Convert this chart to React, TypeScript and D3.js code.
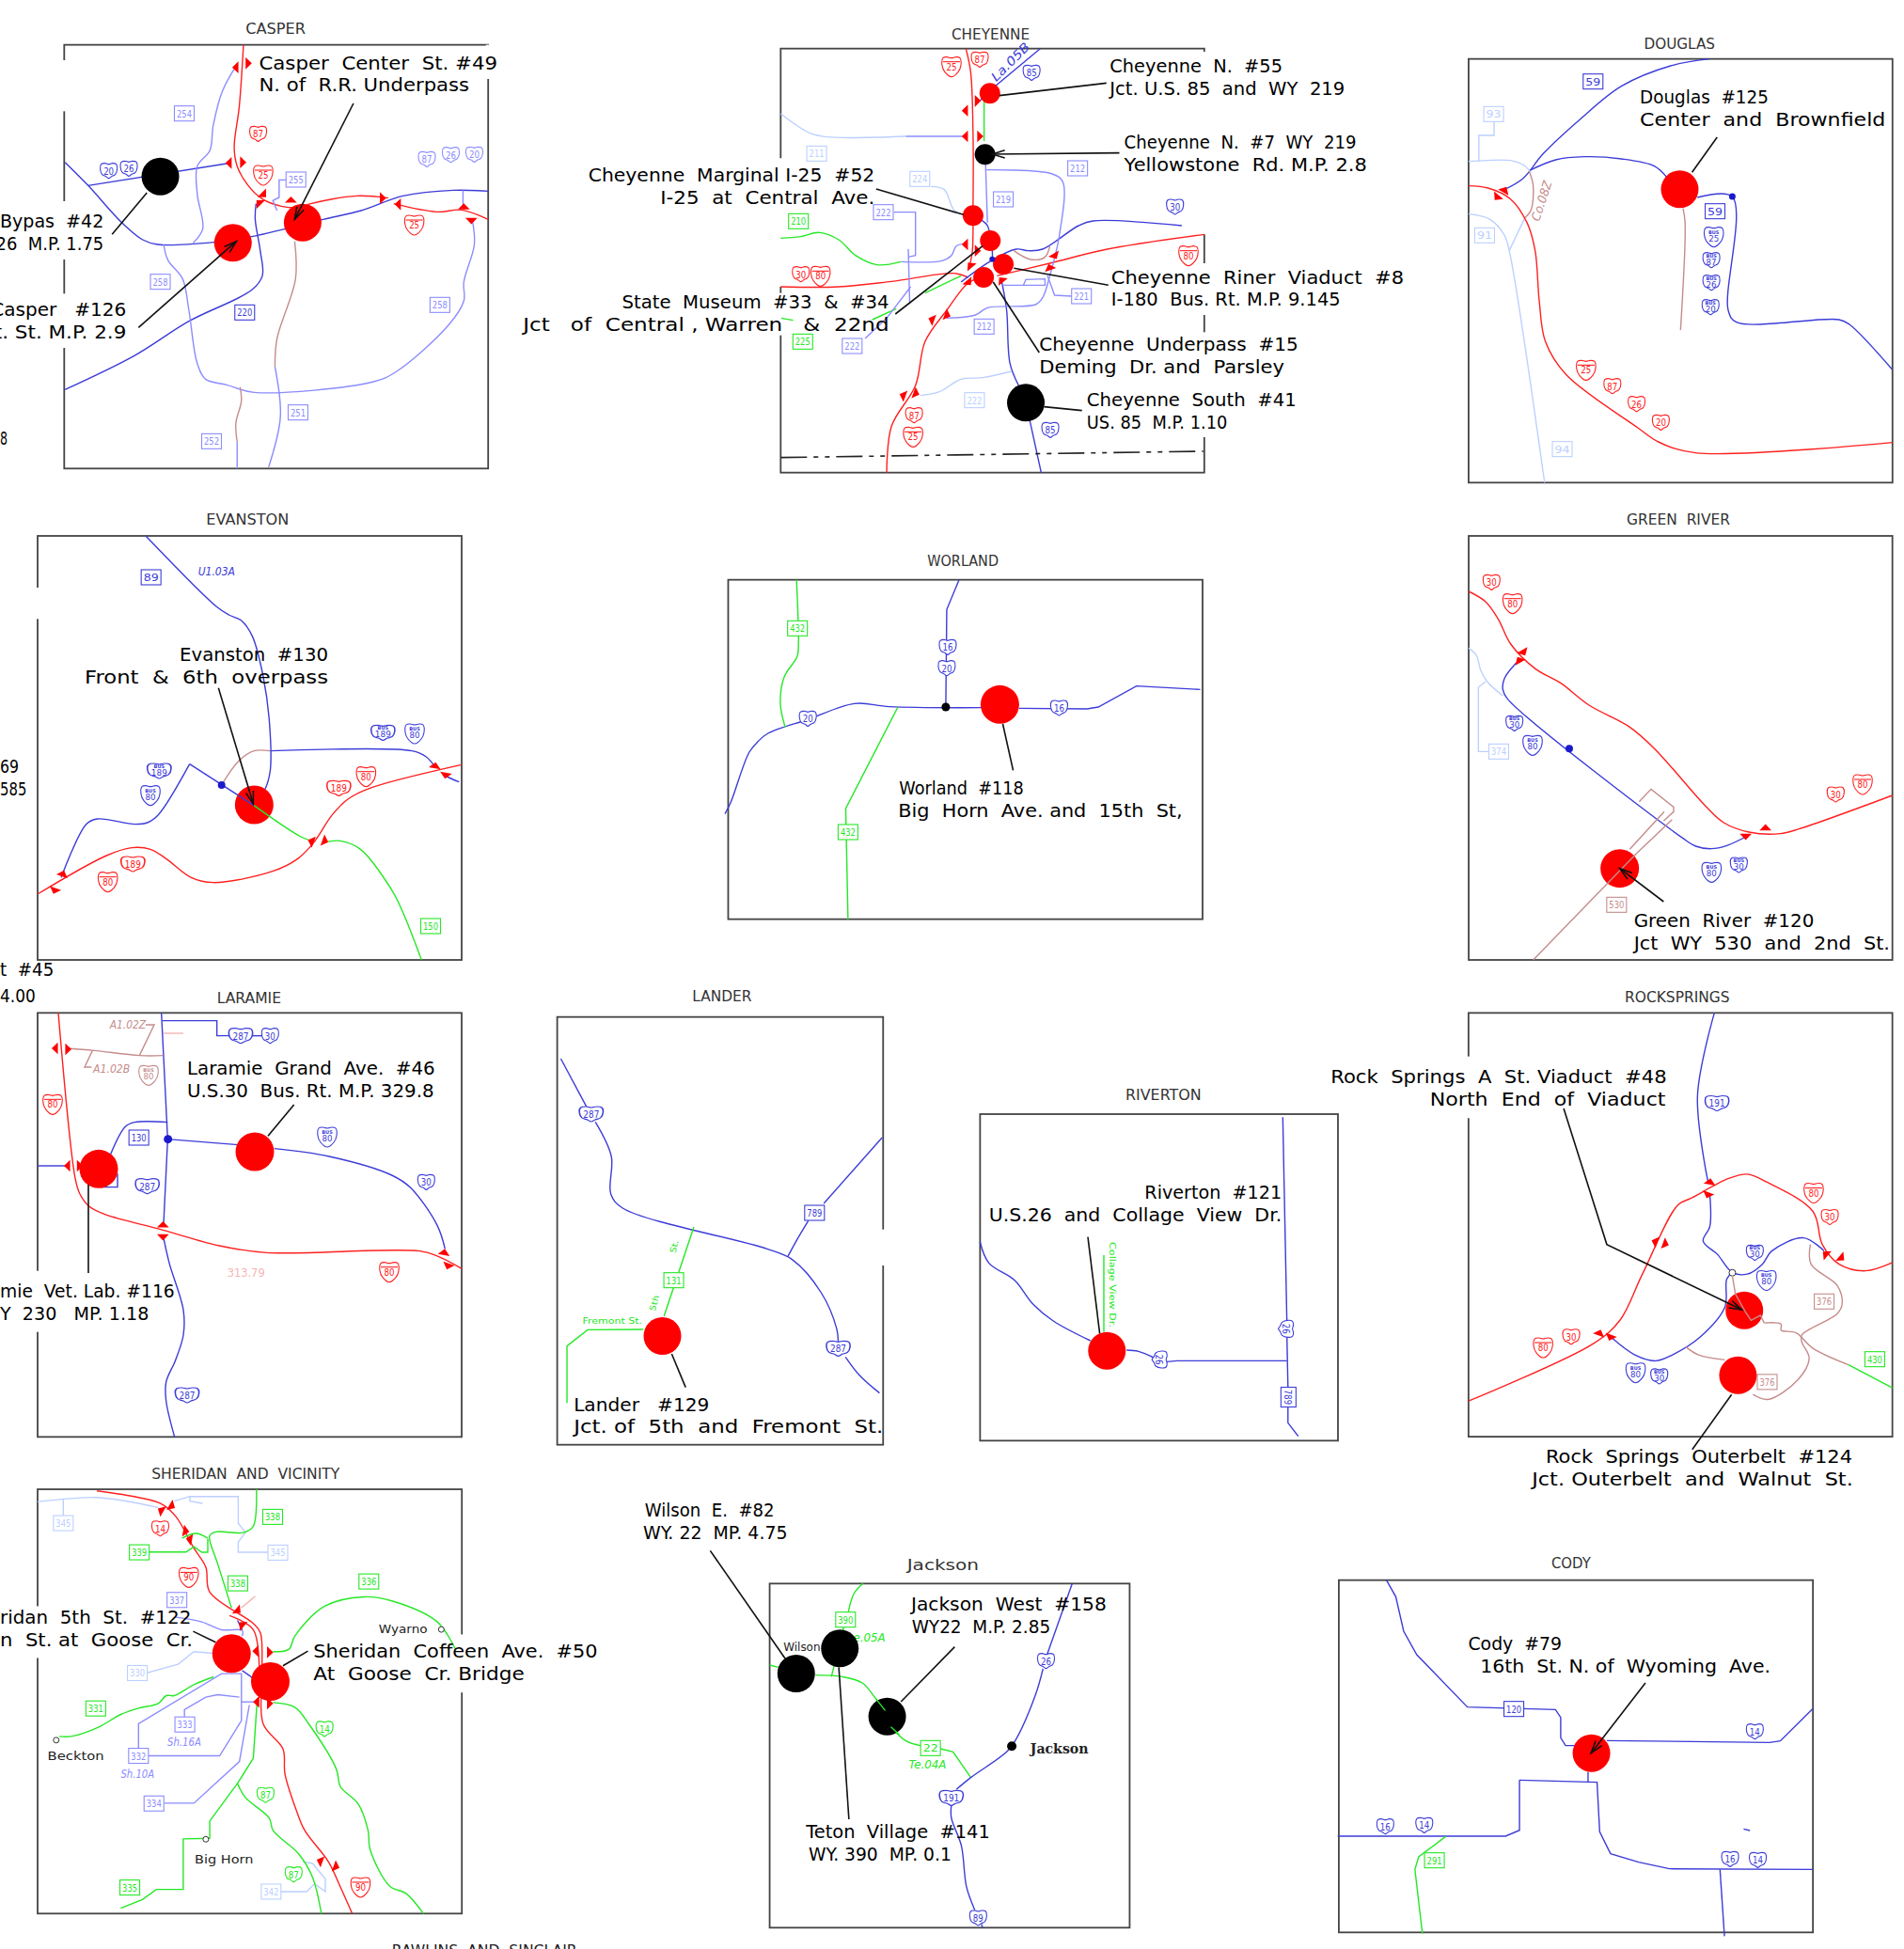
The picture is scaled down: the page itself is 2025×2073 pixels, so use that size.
import * as d3 from 'd3';
import React from 'react';

// Map values are read off the source sheet, one crop per inset: [left, top, width, height].
// Every x/y below is in that crop's measuring grid and goes through the panel's d3 scales.
type Road = [string, number[], number?];
type Shield = [string, string, number, number, string, number?];
type Station = [string, number, number, number];
type Leader = [number[], number?];
type Caption = [number, number, number, string];
type Note = [string, string, number, number, number, string, number?];
type Ramp = [number, number, number];

const casperRoads: Road[] = [
  ['interstate', [580,143,570,340,558,470,565,530,590,590,625,635,670,658,715,662,740,650,850,625,925,632]],
  ['interstate', [938,650,1040,676,1100,670,1163,700]],
  ['us', [155,518,210,592,290,710,340,765,375,780,510,773,600,755,680,730,770,700,860,672,960,625,1080,607,1163,610]],
  ['us', [210,592,540,522], 1],
  ['us', [155,1243,320,1135,450,1025,600,925,625,880,620,800,608,700,610,650]],
  ['local', [565,205,530,290,508,400,500,480,470,530,470,620,483,730,460,775]],
  ['local', [390,780,400,830,435,890,450,990,470,1160,490,1210,540,1228,605,1252,890,1218,945,1185,1070,1035,1105,960,1105,900,1130,780,1125,700]],
  ['local', [1103,607,1103,660], 1],
  ['business', [702,770,704,890,660,1080,655,1170]],
  ['local', [655,1170,668,1330,640,1490]],
  ['business', [572,1235,575,1280,562,1350,565,1410]],
  ['local', [565,1410,565,1495], 1],
  ['local', [682,574,665,574,665,630,650,640,660,672], 1],
];
const casperShields: Shield[] = [
  ['box','local',439,362,'254'], ['box','local',382,899,'258'], ['box','local',1048,973,'258'],
  ['box','local',705,573,'255'], ['box','us',583,997,'220'], ['box','local',710,1316,'251'], ['box','local',504,1408,'252'],
  ['us','us',259,545,'20'], ['us','us',307,538,'26'], ['us','interstate',615,427,'87'],
  ['us','local',1017,508,'87'], ['us','local',1074,494,'26'], ['us','local',1130,493,'20'],
  ['int','interstate',627,558,'25'], ['int','interstate',987,717,'25'],
];
const casperStations: Station[] = [['black',382,563,20],['red',555,775,20],['red',721,710,20]];
const casperLeaders: Leader[] = [[[350,615,267,748]],[[330,1045,563,770],1],[[842,330,702,700],1]];
const casperRamps: Ramp[] = [[563,215,180],[590,202,0],[547,520,180],[577,518,0],[627,620,45],[618,648,225],[693,640,270],[910,632,0],[950,652,180],[1105,662,270],[1123,702,90]];
const casperCaptions: Caption[] = [
  [617,1185,222,'Casper  Center  St. #49'], [617,1118,292,'N. of  R.R. Underpass'],
  [0,247,725,'Bypas  #42'], [-10,247,797,'26  M.P. 1.75'],
  [-22,301,1008,'Casper   #126'], [-14,301,1080,'t. St. M.P. 2.9'], [0,18,1420,'8'],
];

const cheyenneRoads: Road[] = [
  ['interstate', [955,125,965,200,970,400,970,620,968,780,960,830]],
  ['interstate', [790,1478,800,1330,850,1200,870,1060,915,960,955,880,975,860]],
  ['interstate', [569,885,690,885,800,868,930,842,960,855]],
  ['interstate', [1020,850,1130,810,1250,765,1452,718]],
  ['us', [1110,125,1020,240,985,290], 1],
  ['state', [993,290,993,420], 1],
  ['local', [996,490,1000,680], 1],
  ['us', [965,650,990,675,1000,690,1010,770,1010,800]],
  ['us', [1405,690,1220,675,1190,690,1115,765,1085,770,1060,765,1010,800,945,870]],
  ['state', [945,850,870,905], 1], ['state', [810,955,760,990], 1], ['state', [570,985,595,992], 1],
  ['us', [1030,870,1040,960,1047,1130,1065,1200]],
  ['us', [1088,1310,1112,1478], 1],
  ['business', [1055,770,1090,798,1120,790,1130,755]],
  ['local', [998,512,1135,525,1157,550,1150,720,1130,850,1115,920,1100,942,1000,952,975,975,915,985]],
  ['minor', [882,565,910,575,930,640,950,655]],
  ['local', [805,647,850,647,850,785,835,790], 1],
  ['local', [835,765,838,940], 1],
  ['local', [820,805,905,802,925,785,935,755,950,748]],
  ['local', [840,885,790,985,745,1050], 1],
  ['local', [1175,915,1140,912,1130,870,1125,850], 1],
  ['local', [1030,880,1120,880,1120,860,1080,862,1075,880], 1],
  ['minor', [569,333,630,395,665,407,830,405]],
  ['local', [830,405,955,405], 1],
  ['minor', [860,1232,900,1220,945,1180,990,1175,1050,1155]],
  ['state', [569,730,610,725,650,712,690,735,725,785,770,815,820,805]],
  ['stateline', [569,1430,1450,1410], 1],
];
const cheyenneShields: Shield[] = [
  ['int','interstate',925,182,'25'], ['us','interstate',984,160,'87'], ['us','us',1092,202,'85'],
  ['box','minor',644,460,'211'], ['box','local',1188,507,'212'], ['box','local',1033,606,'219'],
  ['box','minor',859,541,'224'], ['box','local',783,647,'222'], ['box','state',606,676,'210'],
  ['us','us',1391,630,'30'], ['int','interstate',1419,785,'80'], ['us','interstate',611,845,'30'],
  ['int','interstate',652,850,'80'], ['box','local',1196,915,'221'], ['box','local',993,1012,'212'],
  ['box','local',718,1074,'222'], ['box','state',615,1060,'225'], ['box','minor',973,1247,'222'],
  ['us','interstate',847,1295,'87'], ['int','interstate',845,1363,'25'], ['us','us',1131,1342,'85'],
];
const cheyenneStations: Station[] = [
  ['red',1005,268,11],['black',995,463,11],['red',970,658,11],['red',1006,738,11],
  ['red',1033,813,11],['red',992,855,11],['black',1080,1255,20],['blue',1010,797,3],
];
const cheyenneLeaders: Leader[] = [
  [[1248,235,1025,275]],[[1275,458,1010,462],1],[[768,573,950,655]],[[808,972,990,755]],
  [[1252,880,1055,826]],[[1108,1095,1012,870]],[[1197,1280,1118,1268]],
];
const cheyenneRamps: Ramp[] = [[955,323,180],[978,292,0],[955,405,180],[983,405,0],[955,750,180],[978,770,0],[965,818,230],[960,870,50],[1030,865,230],[1130,825,250],[1140,785,60],[885,990,200],[915,975,20],[825,1232,200],[850,1225,20]];
const cheyenneCaptions: Caption[] = [
  [1255,1615,200,'Cheyenne  N.  #55'], [1255,1745,272,'Jct. U.S. 85  and  WY  219'],
  [1285,1769,445,'Cheyenne  N.  #7  WY  219'], [1285,1791,517,'Yellowstone  Rd. M.P. 2.8'],
  [168,765,550,'Cheyenne  Marginal I-25  #52'], [318,765,622,'I-25  at  Central  Ave.'],
  [238,795,955,'State  Museum  #33  &  #34'], [32,795,1027,'Jct   of  Central , Warren   &  22nd'],
  [1258,1868,875,'Cheyenne  Riner  Viaduct  #8'], [1258,1736,945,'I-180  Bus. Rt. M.P. 9.145'],
  [1108,1648,1090,'Cheyenne  Underpass  #15'], [1108,1619,1162,'Deming  Dr. and  Parsley'],
  [1207,1644,1266,'Cheyenne  South  #41'], [1207,1500,1338,'US. 85  M.P. 1.10'],
];
const cheyenneNotes: Note[] = [['La.05B','us',1018,52,232,'italic',-45]];

const douglasRoads: Road[] = [
  ['us', [1095,128,1000,150,880,215,780,320,690,430,640,510,595,545]],
  ['us', [655,485,720,450,790,440,880,447,960,470,990,505]],
  ['us', [1065,570,1150,568,1140,930,1160,968,1410,960,1435,975,1540,1120]],
  ['minor', [508,455,610,452,640,465,660,490]],
  ['minor', [508,622,560,640,595,690,607,740,693,1480]],
  ['minor', [607,740,645,635], 1],
  ['minor', [570,328,570,372,533,372,533,455], 1],
  ['business', [655,485,665,530,660,610,645,635]],
  ['business', [1030,605,1035,650,1024,993]],
  ['interstate', [508,533,555,540,610,575,650,650,670,740,680,900,695,1030,745,1135,920,1305,970,1350,1060,1385,1540,1352]],
];
const douglasShields: Shield[] = [
  ['box','us',811,200,'59'], ['box','minor',569,304,'93'], ['box','minor',547,691,'91'], ['box','minor',736,1373,'94'],
  ['box','us',1108,614,'59'], ['busint','us',1105,695,'25'], ['busus','us',1099,770,'87'], ['busus','us',1099,842,'26'], ['busus','us',1097,920,'20'],
  ['int','interstate',794,1120,'25'], ['us','interstate',858,1172,'87'], ['us','interstate',917,1229,'26'], ['us','interstate',976,1288,'20'],
];
const douglasStations: Station[] = [['red',1022,544,20],['blue',1150,567,3.5]];
const douglasLeaders: Leader[] = [[[1113,378,1052,490]]];
const douglasRamps: Ramp[] = [[595,548,300],[578,568,130]];
const douglasCaptions: Caption[] = [[925,1238,270,'Douglas  #125'],[925,1523,342,'Center  and  Brownfield']];
const douglasNotes: Note[] = [['Co.08Z','business',680,44,648,'italic',-72]];

const evanstonRoads: Road[] = [
  ['us', [465,120,690,345,730,372,770,390,805,440,840,570,860,720,862,870,845,930,810,980]],
  ['us', [810,980,605,848], 1],
  ['us', [605,848,505,1010,470,1035,430,1040,310,1023,275,1040,195,1210]],
  ['us', [862,806,1315,806,1360,825,1390,860]],
  ['business', [707,915,760,840,810,806,862,806]],
  ['us', [1420,885,1445,897,1465,905]],
  ['interstate', [120,1263,340,1140,420,1115,480,1120,530,1150,610,1210,680,1226,870,1190,950,1150,1000,1100,1060,1010,1110,960,1180,925,1473,850]],
  ['state', [1035,1098,1085,1093,1150,1120,1250,1250,1285,1320,1345,1473]],
];
const evanstonOver: Road[] = [['us', [760,948,810,980], 1], ['state', [810,980,960,1080,1000,1095]]];
const evanstonShields: Shield[] = [
  ['box','us',482,252,'89'], ['busus','us',1222,748,'189'], ['busint','us',1323,750,'80'], ['busus','us',508,870,'189'], ['busint','us',480,947,'80'],
  ['us','interstate',1081,925,'189'], ['int','interstate',1168,887,'80'], ['us','interstate',424,1167,'189'], ['int','interstate',344,1223,'80'], ['box','state',1374,1365,'150'],
];
const evanstonStations: Station[] = [['red',811,978,20.5],['blue',707,915,4]];
const evanstonLeaders: Leader[] = [[[697,605,808,975],1]];
const evanstonRamps: Ramp[] = [[200,1200,290],[175,1250,110],[995,1095,200],[1035,1093,20],[1388,855,280],[1422,882,100]];
const evanstonCaptions: Caption[] = [
  [573,1047,520,'Evanston  #130'], [270,1047,592,'Front  &  6th  overpass'],
  [0,60,877,'69'], [0,85,948,'585'], [0,172,1525,'t  #45'],
];
const evanstonNotes: Note[] = [['U1.03A','us',632,750,245,'italic']];

const worlandRoads: Road[] = [
  ['us', [32,857,50,820,107,660,135,625,165,600,290,555,432,505,540,515,825,518]],
  ['us', [940,520,1150,522,1185,516,1303,449,1500,460], 1],
  ['us', [755,110,717,205,714,516], 1],
  ['state', [253,110,259,320,255,355,215,420,203,505,218,580]],
  ['state', [566,516,405,840,412,1193], 1],
];
const worlandShields: Shield[] = [
  ['us','us',720,325,'16'], ['us','us',717,392,'20'], ['us','us',288,553,'20'], ['us','us',1064,519,'16'],
  ['box','state',256,265,'432'], ['box','state',412,915,'432'],
];
const worlandStations: Station[] = [['red',881,508,20.5],['black',714,516,4.5]];
const worlandLeaders: Leader[] = [[[890,570,922,718]]];
const worlandCaptions: Caption[] = [[570,955,795,'Worland  #118'],[567,1445,868,'Big  Horn  Ave. and  15th  St,']];

const greenRiverRoads: Road[] = [
  ['interstate', [66,297,120,330,160,385,200,465,280,545,360,590,450,660,580,730,660,800,820,980,880,1035,960,1065,1060,1070,1120,1055,1418,948]],
  ['us', [218,525,180,575,175,610,190,640,750,1085,790,1110,840,1118,890,1108,950,1080]],
  ['minor', [66,478,90,500,105,550,125,585,175,630]],
  ['minor', [120,585,97,603,97,808,130,808], 1],
  ['business', [610,968,648,928,720,985,720,1000,688,1030], 1],
  ['business', [580,1120,690,1000], 1],
  ['business', [600,1135,715,1025], 1],
];
const greenRiverOver: Road[] = [['business', [272,1473,600,1135], 1]];
const greenRiverShields: Shield[] = [
  ['us','interstate',139,268,'30'], ['int','interstate',206,335,'80'], ['busus','us',212,718,'30'], ['busint','us',270,787,'80'],
  ['busint','us',841,1192,'80'], ['busus','us',928,1170,'30'], ['us','interstate',1237,945,'30'], ['int','interstate',1323,912,'80'],
  ['box','minor',162,808,'374'], ['box','business',538,1297,'530'],
];
const greenRiverStations: Station[] = [['red',548,1181,20.5],['blue',387,799,4]];
const greenRiverLeaders: Leader[] = [[[688,1287,548,1181],1]];
const greenRiverRamps: Ramp[] = [[240,490,60],[228,518,240],[950,1077,90],[1013,1053,270]];
const greenRiverCaptions: Caption[] = [[593,1168,1367,'Green  River  #120'],[593,1410,1440,'Jct  WY  530  and  2nd  St.']];

const laramieRoads: Road[] = [
  ['interstate', [186,112,240,640,255,690,285,730,335,755,520,805,700,855,850,877,1340,872,1400,890,1473,928]],
  ['us', [515,112,535,515,522,785], 1],
  ['us', [522,830,540,910,585,1060,585,1140,560,1220,530,1290,530,1350,557,1465]],
  ['us', [518,137,692,137,692,185,735,185], 1], ['us', [805,185,838,185], 1],
  ['us', [535,515,760,533], 1],
  ['us', [875,545,1050,570,1250,630,1310,670,1395,790,1420,865]],
  ['us', [535,461,430,461,400,475,350,570]],
  ['us', [120,600,210,600], 1], ['us', [375,625,375,668,320,668], 1],
  ['business', [215,225,300,232,445,248,520,248]],
  ['business', [445,248,492,150,465,150], 1], ['business', [295,232,270,285,292,285], 1],
  ['pink', [522,177,585,177], 1],
];
const laramieShields: Shield[] = [
  ['us','us',768,185,'287'], ['us','us',862,185,'30'], ['busint','business',474,310,'80'], ['int','interstate',168,403,'80'],
  ['box','us',443,510,'130'], ['us','us',470,665,'287'], ['busint','us',1044,507,'80'], ['us','us',1360,652,'30'],
  ['int','interstate',1242,938,'80'], ['us','us',597,1332,'287'],
];
const laramieStations: Station[] = [['red',315,610,20.5],['red',813,555,20.5],['blue',536,515,4.5]];
const laramieLeaders: Leader[] = [[[938,405,855,505]],[[282,660,282,942]]];
const laramieRamps: Ramp[] = [[178,225,180],[215,228,0],[217,600,180],[252,600,0],[520,790,270],[520,825,90],[1417,878,280],[1430,918,110]];
const laramieCaptions: Caption[] = [
  [597,1388,308,'Laramie  Grand  Ave.  #46'], [597,1385,380,'U.S.30  Bus. Rt. M.P. 329.8'],
  [0,557,1020,'mie  Vet. Lab. #116'], [0,475,1092,'Y  230   MP. 1.18'], [0,113,77,'4.00'],
];
const laramieNotes: Note[] = [
  ['313.79','pink',725,845,953,'plain'], ['A1.02Z','business',350,465,162,'italic'], ['A1.02B','business',297,415,302,'italic'],
];

const landerRoads: Road[] = [
  ['us', [30,258,80,412], 1],
  ['us', [97,460,128,570,127,690,150,735,430,865,478,898,535,1005,565,1120,568,1160]],
  ['us', [582,1210,610,1270,648,1325]],
  ['us', [653,510,540,720], 1], ['us', [510,775,490,830,470,890]],
  ['state', [288,795,230,1080], 1],
  ['state', [190,1122,82,1123,42,1175,42,1357], 1],
];
const landerShields: Shield[] = [['us','us',89,435,'287'],['box','us',522,750,'789'],['us','us',568,1183,'287'],['box','state',249,965,'131']];
const landerStations: Station[] = [['red',227,1143,20]];
const landerLeaders: Leader[] = [[[245,1200,272,1307]]];
const landerCaptions: Caption[] = [[55,318,1382,'Lander   #129'],[55,655,1453,'Jct. of  5th  and  Fremont  St.']];
const landerNotes: Note[] = [
  ['Fremont St.','state',72,188,1105,'tiny'], ['St.','state',252,14,880,'tiny',-75], ['5th','state',213,17,1065,'tiny',-75],
];

const rivertonRoads: Road[] = [
  ['us', [843,843,860,910,910,965,945,1040,985,1095,1057,1158]],
  ['us', [1127,1188,1150,1192,1180,1212]], ['us', [1205,1225,1225,1222,1438,1222], 1],
  ['us', [1430,445,1438,1100], 1], ['us', [1438,1143,1440,1305], 1], ['us', [1440,1370,1440,1420,1460,1463], 1],
  ['state', [1083,885,1083,1130], 1],
];
const rivertonShields: Shield[] = [['us','us',1191,1218,'26',90],['us','us',1436,1120,'26',90],['box','us',1441,1338,'789',90]];
const rivertonStations: Station[] = [['red',1089,1190,20]];
const rivertonLeaders: Leader[] = [[[1052,827,1075,1135]]];
const rivertonCaptions: Caption[] = [[1162,1428,705,'Riverton  #121'],[860,1428,778,'U.S.26  and  Collage  View  Dr.']];
const rivertonNotes: Note[] = [['Collage View Dr.','state',1094,91,843,'tiny',90]];

const rockSpringsRoads: Road[] = [
  ['us', [1062,78,1017,330,1045,590]],
  ['us', [1050,630,1050,725,1032,770,1070,810,1110,865,1150,870,1190,840,1215,800,1300,760,1355,800]],
  ['us', [1110,865,1095,885,1090,970,1025,1060,950,1115,905,1133,850,1115,790,1065]],
  ['business', [1318,780,1320,840,1390,905,1403,960,1390,990,1295,1055,1295,1075,1315,1125,1285,1190,1205,1250,1165,1235]],
  ['business', [985,1090,1020,1115,1090,1130]],
  ['business', [1195,1018,1240,1022,1240,1040,1280,1048,1325,1095,1420,1145]],
  ['state', [1420,1145,1537,1215], 1],
  ['interstate', [406,1255,740,1080,810,1010,870,870,965,660,1000,640,1100,580,1150,567,1200,590,1325,680,1350,780,1395,840,1465,860,1537,835]],
];
const rockSpringsOver: Road[] = [['business', [1110,875,1118,930,1145,985,1160,1010,1185,995,1195,1018], 1]];
const rockSpringsShields: Shield[] = [
  ['us','us',1069,352,'191'], ['int','interstate',1327,623,'80'], ['us','interstate',1370,697,'30'], ['busus','us',1170,805,'30'], ['busint','us',1201,888,'80'],
  ['box','business',1355,953,'376'], ['box','business',1203,1197,'376'], ['box','state',1490,1128,'430'], ['int','interstate',605,1092,'80'],
  ['us','interstate',680,1060,'30'], ['busint','us',852,1168,'80'], ['busus','us',915,1180,'30'],
];
const rockSpringsStations: Station[] = [['red',1142,980,20],['red',1125,1177,20],['open',1110,866,3.5]];
const rockSpringsLeaders: Leader[] = [[[660,368,775,780,1135,978],1],[[1108,1235,1003,1402]]];
const rockSpringsRamps: Ramp[] = [[1050,592,280],[1045,628,110],[905,772,200],[930,778,20],[755,1050,290],[785,1060,110],[1360,810,220],[1400,820,40]];
const rockSpringsCaptions: Caption[] = [
  [38,935,290,'Rock  Springs  A  St. Viaduct  #48'], [303,932,358,'North  End  of  Viaduct'],
  [612,1430,1443,'Rock  Springs  Outerbelt  #124'], [575,1432,1512,'Jct. Outerbelt  and  Walnut  St.'],
];

const sheridanRoads: Road[] = [
  ['minor', [95,142,240,128,320,140,400,160]], ['minor', [160,135,160,190], 1],
  ['minor', [440,140,480,125,602,125,602,210,620,240,602,270,602,303,680,303], 1],
  ['minor', [480,125,480,140,512,147], 1], ['minor', [370,688,450,660,490,620,540,625], 1],
  ['minor', [708,1385,775,1385,795,1360,822,1385,822,1345,790,1295,765,1290], 1],
  ['local', [445,510,510,525,560,550,612,552,612,570]], ['us', [600,520,612,550], 1],
  ['local', [350,930,350,850,560,690,610,690,610,840], 1], ['local', [375,952,555,952,600,860,610,840], 1],
  ['local', [466,828,466,805,520,765,550,757,605,765], 1], ['local', [610,780,650,780], 1],
  ['local', [415,1103,490,1103,605,970,630,790], 1], ['us', [612,680,640,705], 1],
  ['interstate', [245,107,350,128,410,150,445,190,490,290,520,350,530,430,640,530,658,560,662,690,665,850,715,930,720,1010,750,1130,770,1190,830,1290,860,1370,890,1455]],
  ['interstate', [580,505,640,550,655,680]], ['pink', [610,480,645,443], 1],
  ['state', [648,102,640,220,615,240,545,238,530,250,530,265,550,340,585,480]],
  ['state', [525,260,525,303,510,303,490,285,470,302,375,302], 1], ['state', [460,258,495,243,525,258]],
  ['state', [690,620,730,612,745,570,820,475,920,445,990,458,1105,525,1150,610]],
  ['state', [150,890,180,890,250,860,305,820,350,800,400,785,420,760,440,760,490,725,540,700]],
  ['state', [690,782,745,797,780,850,850,995,860,1050,905,1105,930,1190,935,1250,985,1368,1025,1390,1070,1455]],
  ['state', [650,770,640,960,600,1040,530,1160,530,1215,463,1217,463,1378,395,1378,360,1410,305,1438], 1],
  ['state', [600,1040,620,1085,680,1150,690,1190,755,1265,790,1340,812,1455]],
];
const sheridanShields: Shield[] = [
  ['box','minor',160,210,'345'], ['box','minor',702,304,'345'], ['us','interstate',405,227,'14'], ['box','state',689,190,'338'], ['box','state',352,303,'339'],
  ['int','interstate',477,382,'90'], ['box','state',601,402,'338'], ['box','state',932,396,'336'], ['box','local',447,455,'337'], ['box','minor',347,688,'330'],
  ['box','state',242,801,'331'], ['box','local',467,852,'333'], ['box','local',350,952,'332'], ['box','local',389,1104,'334'], ['us','state',820,866,'14'],
  ['us','state',671,1077,'87'], ['us','state',742,1330,'87'], ['box','state',328,1372,'335'], ['box','minor',685,1385,'342'], ['int','interstate',911,1370,'90'],
];
const sheridanStations: Station[] = [['red',585,626,20.5],['red',683,715,20.5],['open',142,902,3],['open',1115,549,3],['open',520,1218,3]];
const sheridanLeaders: Leader[] = [[[488,555,545,590]],[[778,618,715,665]]];
const sheridanRamps: Ramp[] = [[408,170,210],[433,155,30],[468,235,10],[480,262,190],[600,488,40],[612,535,220],[648,618,180],[680,622,0],[650,780,180],[680,785,0],[810,1288,200],[848,1305,20]];
const sheridanCaptions: Caption[] = [
  [0,483,530,'ridan  5th  St.  #122'], [0,487,602,'n  St. at  Goose  Cr.'],
  [792,1510,638,'Sheridan  Coffeen  Ave.  #50'], [792,1325,710,'At  Goose  Cr. Bridge'],
];
const sheridanNotes: Note[] = [
  ['Wyarno','ink',957,1080,562,'small'], ['Beckton','ink',120,263,965,'small'], ['Big Horn','ink',492,640,1295,'small'],
  ['Sh.16A','local',423,508,920,'italic'], ['Sh.10A','local',305,390,1023,'italic'],
  ['RAWLINS  AND  SINCLAIR','ink',990,1458,1588,'title'],
];

const jacksonRoads: Road[] = [
  ['state', [722,343,695,375,678,435]], ['state', [665,480,628,640], 1], ['state', [444,603,470,610], 1],
  ['state', [580,635,660,640,720,660,760,710,788,748]], ['state', [805,800,850,845,893,860]], ['state', [953,870,990,880,1043,962], 1],
  ['us', [1345,343,1270,570], 1], ['us', [1258,615,1235,700,1175,845,1150,880,1043,962,1000,1000]],
  ['us', [985,1050,985,1090,1015,1180,1030,1310,1055,1385]], ['us', [1075,1430,1078,1441], 1],
];
const jacksonOver: Road[] = [['state', [760,710,788,748]], ['state', [805,800,830,825]]];
const jacksonShields: Shield[] = [['box','state',670,458,'390'],['box','state',923,868,'22'],['us','us',1267,590,'26'],['us','us',985,1027,'191'],['us','us',1065,1410,'89']];
const jacksonStations: Station[] = [['black',523,630,20],['black',653,550,20],['black',794,767,20],['black',1165,862,5]];
const jacksonLeaders: Leader[] = [[[267,238,490,582]],[[650,610,680,1095]],[[995,545,835,720]]];
const jacksonCaptions: Caption[] = [
  [72,458,130,'Wilson  E.  #82'], [67,497,200,'WY. 22  MP. 4.75'], [865,1447,428,'Jackson  West  #158'],
  [867,1280,500,'WY22  M.P. 2.85'], [552,1100,1155,'Teton  Village  #141'], [560,985,1227,'WY. 390  MP. 0.1'],
];
const jacksonNotes: Note[] = [
  ['Wilson','ink',485,595,557,'small'], ['Jackson','ink',1220,1393,885,'serif'],
  ['e.05A','state',693,788,527,'italic'], ['Te.04A','state',858,970,932,'italic'],
];

const codyRoads: Road[] = [
  ['us', [187,122,212,175,233,285,268,360,403,527,638,535,652,560,652,625,665,650,690,650], 1],
  ['us', [775,634,1210,640,1238,635,1325,532], 1], ['us', [725,735,725,767], 1],
  ['us', [542,760,749,767,756,925,785,995,860,1022,942,1043,1325,1045], 1],
  ['us', [542,760,542,920,505,939,57,939], 1], ['us', [1077,1045,1089,1258], 1], ['us', [1140,916,1157,921], 1],
  ['state', [345,940,273,1005,263,1045,283,1250], 1],
];
const codyShields: Shield[] = [['box','us',527,533,'120'],['us','us',1170,605,'14'],['us','us',184,908,'16'],['us','us',288,904,'14'],['us','us',1104,1012,'16'],['us','us',1178,1015,'14'],['box','state',315,1016,'291']];
const codyStations: Station[] = [['red',734,674,20]];
const codyLeaders: Leader[] = [[[878,450,733,674],1]];
const codyCaptions: Caption[] = [[405,655,345,'Cody  #79'],[437,1212,417,'16th  St. N. of  Wyoming  Ave.']];

const inkOf: Record<string, string> = {
  interstate: '#ff2020', us: '#3c3cd8', state: '#25e825', local: '#8c8cff', minor: '#bcd0ff',
  business: '#c58c8c', pink: '#f5b5b5', stateline: '#222', ink: '#222',
};
const stationFill: Record<string, string> = { red: '#ff0000', black: '#000', blue: '#1a1acc', open: '#fff' };

type Panel = {
  crop: number[];
  title?: [number, number, number, string];
  frame?: number[];
  gaps?: number[][];
  roads: Road[];
  over?: Road[];
  shields?: Shield[];
  stations?: Station[];
  leaders?: Leader[];
  ramps?: Ramp[];
  captions?: Caption[];
  notes?: Note[];
};

// crops sharing one measuring grid: Lander and Riverton; the others have one inset each
const panels: Panel[] = [
  { crop: [0,0,700,520], title: [585,728,108,'CASPER'], frame: [153,143,1163,1495], gaps: [[153,192,355],[153,642,828],[153,937,1110],[1163,143,252]], roads: casperRoads, shields: casperShields, stations: casperStations, leaders: casperLeaders, ramps: casperRamps, captions: casperCaptions },
  { crop: [540,10,800,510], title: [925,1088,96,'CHEYENNE'], frame: [569,125,1452,1478], gaps: [[569,475,885],[569,905,1040],[1452,135,718],[1452,810,975],[1452,1030,1365]], roads: cheyenneRoads, shields: cheyenneShields, stations: cheyenneStations, leaders: cheyenneLeaders, ramps: cheyenneRamps, captions: cheyenneCaptions, notes: cheyenneNotes },
  { crop: [1340,20,685,510], title: [935,1108,95,'DOUGLAS'], frame: [508,128,1540,1480], roads: douglasRoads, shields: douglasShields, stations: douglasStations, leaders: douglasLeaders, ramps: douglasRamps, captions: douglasCaptions, notes: douglasNotes },
  { crop: [0,530,520,510], title: [658,922,85,'EVANSTON'], frame: [120,120,1473,1473], gaps: [[120,285,385]], roads: evanstonRoads, over: evanstonOver, shields: evanstonShields, stations: evanstonStations, leaders: evanstonLeaders, ramps: evanstonRamps, captions: evanstonCaptions, notes: evanstonNotes },
  { crop: [760,580,540,410], title: [657,877,66,'WORLAND'], frame: [42,110,1507,1193], roads: worlandRoads, shields: worlandShields, stations: worlandStations, leaders: worlandLeaders, captions: worlandCaptions },
  { crop: [1540,530,485,510], title: [570,900,85,'GREEN  RIVER'], frame: [66,120,1418,1473], roads: greenRiverRoads, over: greenRiverOver, shields: greenRiverShields, stations: greenRiverStations, leaders: greenRiverLeaders, ramps: greenRiverRamps, captions: greenRiverCaptions },
  { crop: [0,1040,520,500], title: [692,897,80,'LARAMIE'], frame: [120,112,1473,1465], gaps: [[120,935,1130]], roads: laramieRoads, shields: laramieShields, stations: laramieStations, leaders: laramieLeaders, ramps: laramieRamps, captions: laramieCaptions, notes: laramieNotes },
  { crop: [580,1040,860,520], title: [285,400,75,'LANDER'], frame: [23,125,655,1490], gaps: [[655,803,918]], roads: landerRoads, shields: landerShields, stations: landerStations, leaders: landerLeaders, captions: landerCaptions, notes: landerNotes },
  { crop: [580,1040,860,520], title: [1125,1272,390,'RIVERTON'], frame: [843,435,1537,1477], roads: rivertonRoads, shields: rivertonShields, stations: rivertonStations, leaders: rivertonLeaders, captions: rivertonCaptions, notes: rivertonNotes },
  { crop: [1400,1050,625,550], title: [823,1103,45,'ROCKSPRINGS'], frame: [406,78,1537,1363], gaps: [[406,210,397]], roads: rockSpringsRoads, over: rockSpringsOver, shields: rockSpringsShields, stations: rockSpringsStations, leaders: rockSpringsLeaders, ramps: rockSpringsRamps, captions: rockSpringsCaptions },
  { crop: [0,1550,660,523], title: [383,858,70,'SHERIDAN  AND  VICINITY'], frame: [95,102,1167,1455], gaps: [[95,475,640],[1167,565,750]], roads: sheridanRoads, shields: sheridanShields, stations: sheridanStations, leaders: sheridanLeaders, ramps: sheridanRamps, captions: sheridanCaptions, notes: sheridanNotes },
  { crop: [660,1570,560,503], title: [853,1067,300,'Jackson'], frame: [444,343,1516,1441], roads: jacksonRoads, over: jacksonOver, shields: jacksonShields, stations: jacksonStations, leaders: jacksonLeaders, captions: jacksonCaptions, notes: jacksonNotes },
  { crop: [1400,1640,625,433], title: [627,732,83,'CODY'], frame: [60,122,1325,1246], roads: codyRoads, shields: codyShields, stations: codyStations, leaders: codyLeaders, captions: codyCaptions },
];

const captionFont = '"DejaVu Sans", sans-serif';
const pairs = (flat: number[]) => d3.pairs(flat).filter((_, i) => i % 2 === 0);

const usShape = d3.line().curve(d3.curveCatmullRomClosed.alpha(0.5))([
  [-8,-7],[-4,-8],[0,-7],[4,-8],[8,-7],[9,-2],[7,4],[3,6],[0,8],[-3,6],[-7,4],[-9,-2],
]) as string;
const intShape = d3.line().curve(d3.curveCatmullRomClosed.alpha(0.5))([
  [-9,-9],[-5,-10],[0,-9],[5,-10],[9,-9],[10,-1],[7,6],[0,11],[-7,6],[-10,-1],
]) as string;

function ShieldMark({ d, sx, sy }: { d: Shield; sx: any; sy: any }) {
  const [type, kind, x, y, label, rot] = d;
  const color = inkOf[kind];
  const bus = type.startsWith('bus');
  const wide = label.length > 2 && type !== 'box';
  return (
    <g transform={`translate(${sx(x)},${sy(y)}) rotate(${rot ?? 0})`} fill="none" stroke={color} strokeWidth={1.1}>
      {type === 'box' && <rect x={-10.5} y={-8} width={21} height={16} fill="#fff" />}
      {(type === 'us' || type === 'busus') && (
        <path d={usShape} fill="#fff" transform={wide ? 'scale(1.4,1)' : undefined} />
      )}
      {(type === 'int' || type === 'busint') && (
        <>
          <path d={intShape} fill="#fff" />
          {!bus && <path d="M-9,-5H9" />}
        </>
      )}
      {bus && (
        <text y={-3} textAnchor="middle" fontSize={5} fontFamily={captionFont} fill={color} stroke="none" fontWeight="bold">BUS</text>
      )}
      <text
        y={bus ? 5 : 4}
        textAnchor="middle"
        fontSize={bus ? 9 : 11}
        fontFamily={captionFont}
        fill={color}
        stroke="none"
        textLength={type === 'box' ? 16 : label.length > 2 ? 17 : 11}
        lengthAdjust="spacingAndGlyphs"
      >
        {label}
      </text>
    </g>
  );
}

function InsetMap({ p }: { p: Panel }) {
  const [left, top, w, h] = p.crop;
  const sx = d3.scaleLinear().domain([0, Math.min(1568, w * 3)]).range([left, left + w]);
  const sy = d3.scaleLinear().domain([0, Math.min(1568, h * 3)]).range([top, top + h]);
  const xy = (flat: number[]) => pairs(flat).map(([a, b]) => [sx(a), sy(b)] as [number, number]);
  const smooth = d3.line().curve(d3.curveCatmullRom.alpha(0.5));
  const straight = d3.line();

  const drawRoad = (r: Road, i: number) => {
    const dash = r[0] === 'stateline';
    return (
      <path
        key={i}
        d={(r[2] ? straight : smooth)(xy(r[1])) as string}
        fill="none"
        stroke={inkOf[r[0]]}
        strokeWidth={dash ? 1.6 : 1.4}
        strokeDasharray={dash ? '28 7 5 7 5 7' : undefined}
      />
    );
  };

  return (
    <g>
      {p.frame && (
        <rect
          x={sx(p.frame[0])}
          y={sy(p.frame[1])}
          width={sx(p.frame[2]) - sx(p.frame[0])}
          height={sy(p.frame[3]) - sy(p.frame[1])}
          fill="none"
          stroke="#444"
          strokeWidth={1.8}
        />
      )}
      {(p.gaps ?? []).map((g, i) => (
        <line key={i} x1={sx(g[0])} x2={sx(g[0])} y1={sy(g[1])} y2={sy(g[2])} stroke="#fff" strokeWidth={5} />
      ))}
      {p.title && (
        <text
          x={sx(p.title[0])}
          y={sy(p.title[2])}
          fontFamily={captionFont}
          fontSize={15}
          fill="#333"
          style={{ whiteSpace: 'pre' }}
          textLength={sx(p.title[1]) - sx(p.title[0])}
          lengthAdjust="spacingAndGlyphs"
        >
          {p.title[3]}
        </text>
      )}
      {p.roads.map(drawRoad)}
      {(p.shields ?? []).map((s, i) => <ShieldMark key={i} d={s} sx={sx} sy={sy} />)}
      {(p.notes ?? []).map((n, i) => {
        const [text, kind, x1, x2, y, style, rot] = n;
        const size = style === 'tiny' ? 9 : style === 'serif' ? 15 : style === 'title' ? 15 : 13;
        return (
          <text
            key={i}
            transform={`translate(${sx(x1)},${sy(y)}) rotate(${rot ?? 0})`}
            fontFamily={style === 'serif' ? '"DejaVu Serif", serif' : captionFont}
            fontWeight={style === 'serif' ? 'bold' : 'normal'}
            fontStyle={style === 'italic' ? 'italic' : 'normal'}
            fontSize={size}
            fill={inkOf[kind]}
            style={{ whiteSpace: 'pre' }}
            textLength={rot !== undefined ? x2 : sx(x2) - sx(x1)}
            lengthAdjust="spacingAndGlyphs"
          >
            {text}
          </text>
        );
      })}
      {(p.stations ?? []).map((s, i) => (
        <circle
          key={i}
          cx={sx(s[1])}
          cy={sy(s[2])}
          r={s[3]}
          fill={stationFill[s[0]]}
          stroke={s[0] === 'open' ? '#333' : 'none'}
          strokeWidth={1}
        />
      ))}
      {(p.over ?? []).map(drawRoad)}
      {(p.ramps ?? []).map((r, i) => (
        <path
          key={i}
          d={d3.symbol(d3.symbolTriangle, 70)() as string}
          transform={`translate(${sx(r[0])},${sy(r[1])}) rotate(${r[2] + 90}) scale(1,0.6)`}
          fill="#ff0000"
        />
      ))}
      {(p.leaders ?? []).map((l, i) => {
        const pts = xy(l[0]);
        const [a, b] = pts.slice(-2);
        const ang = Math.atan2(b[1] - a[1], b[0] - a[0]);
        const barb = (off: number) => [b[0] - 14 * Math.cos(ang + off), b[1] - 14 * Math.sin(ang + off)];
        return (
          <g key={i} fill="none" stroke="#111" strokeWidth={1.6}>
            <path d={straight(pts) as string} />
            {l[1] && <path d={`M${barb(0.3)}L${b}L${barb(-0.3)}`} />}
          </g>
        );
      })}
      {(p.captions ?? []).map((c, i) => (
        <text
          key={i}
          x={sx(c[0])}
          y={sy(c[2])}
          fontFamily={captionFont}
          fontSize={19}
          fill="#000"
          style={{ whiteSpace: 'pre' }}
          textLength={sx(c[1]) - sx(c[0])}
          lengthAdjust="spacingAndGlyphs"
        >
          {c[3]}
        </text>
      ))}
    </g>
  );
}

export default function App() {
  return (
    <svg
      width={2025}
      height={2073}
      viewBox="0 0 2025 2073"
      style={{ position: 'absolute', left: 0, top: 0, background: '#fff' }}
    >
      {panels.map((p, i) => <InsetMap key={i} p={p} />)}
    </svg>
  );
}
